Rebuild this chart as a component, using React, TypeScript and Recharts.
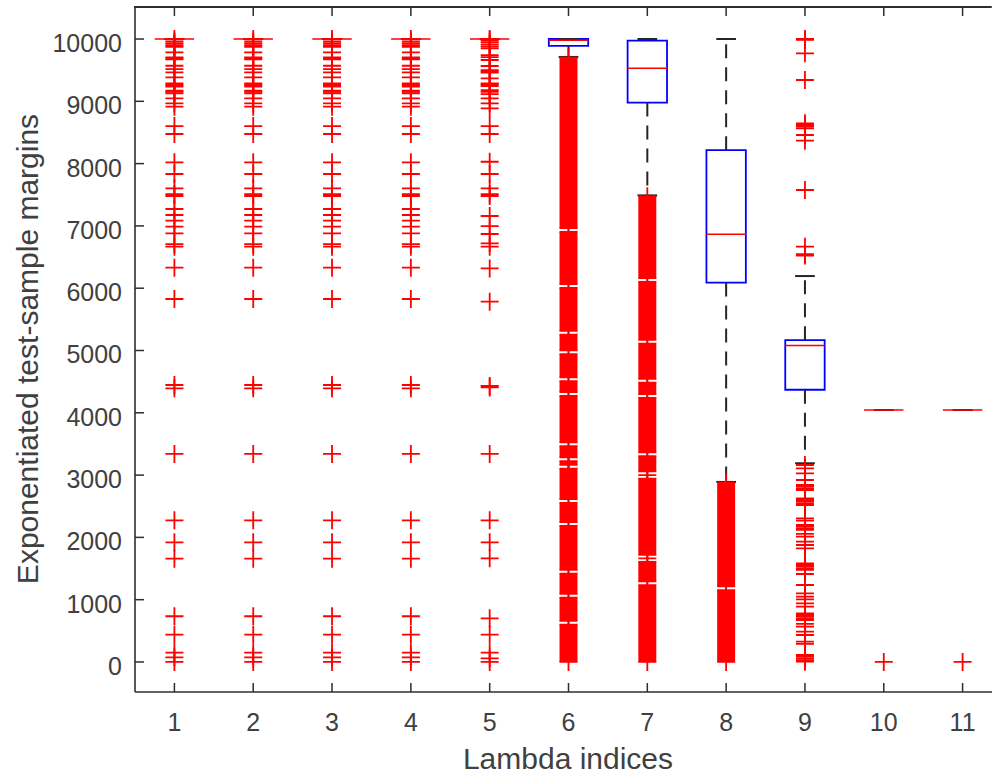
import React from 'react';
import { ComposedChart, XAxis, YAxis, Scatter, ReferenceArea, ReferenceLine, CartesianGrid } from 'recharts';

// lambda indices on the x axis
const groups = [1, 2, 3, 4, 5, 6, 7, 8, 9, 10, 11];
const yTicks = [0, 1000, 2000, 3000, 4000, 5000, 6000, 7000, 8000, 9000, 10000];
const xDomain = [0.5, 11.5];
const yDomain = [-482, 10514];

// box statistics per lambda index
const q1Values = [10000, 10000, 10000, 10000, 10000, 9890, 8980, 6090, 4370, 4045, 4045];
const medianValues = [10000, 10000, 10000, 10000, 10000, 9980, 9530, 6865, 5080, 4045, 4045];
const q3Values = [10000, 10000, 10000, 10000, 10000, 10000, 9975, 8215, 5165, 4045, 4045];
const whiskerLow = [10000, 10000, 10000, 10000, 10000, 9712, 7490, 2890, 3190, 4045, 4045];
const whiskerHigh = [10000, 10000, 10000, 10000, 10000, 10000, 10000, 10000, 6195, 4045, 4045];

// single outliers
const outliersFirst = [10000, 9960, 9930, 9900, 9876, 9786, 9706, 9690, 9674, 9571, 9518, 9465, 9385, 9289, 9262,
  9235, 9170, 9150, 9128, 9048, 8968, 8914, 8603, 8475, 8021, 7833, 7603, 7510, 7480, 7271, 7175, 7084, 6987, 6880,
  6709, 6667, 6329, 5827, 4446, 4393, 3339, 2274, 1921, 1658, 734, 438, 150, 75, 0];
const outliersFifth = [10000, 9984, 9950, 9915, 9880, 9850, 9743, 9710, 9663, 9567, 9502, 9480, 9459, 9369, 9289,
  9267, 9246, 9181, 9150, 9117, 9048, 8968, 8888, 8603, 8475, 8030, 7833, 7603, 7510, 7480, 7159, 6998, 6870, 6720,
  6667, 6318, 5783, 4430, 4408, 3339, 2274, 1921, 1664, 701, 438, 150, 59, 0];
const outliersSeventh = [1663, 3001];
const outliersNinth = [10000, 9985, 9770, 9342, 8647, 8620, 8593, 8566, 8459, 8368, 7576, 6666, 6545, 6525,
  3162, 3109, 3029, 2921, 2841, 2814, 2788, 2761, 2627, 2600, 2573, 2547, 2520, 2306, 2268, 2199, 2172, 2146, 2119,
  2055, 2011, 1931, 1878, 1825, 1584, 1557, 1530, 1504, 1477, 1412, 1236, 1102, 1048, 1006, 942, 888, 781, 754, 727,
  700, 674, 610, 567, 486, 433, 326, 289, 112, 85, 58, 30, 5];
const outliersLast = [0];

// runs of outliers so dense that the markers merge into a solid column
const denseSixth = [[0, 601], [661, 1034], [1094, 1419], [1479, 2185], [2245, 2554], [2614, 3105], [3165, 3224],
  [3284, 3464], [3524, 4272], [4332, 4508], [4568, 4941], [5001, 5256], [5316, 6005], [6065, 6904], [6964, 9700]];
const denseSeventh = [[0, 1233], [1293, 1607], [1720, 2944], [3059, 3304], [3364, 4240], [4300, 4485], [4545, 5111],
  [5171, 6101], [6161, 7475]];
const denseEighth = [[0, 1153], [1213, 2880]];

const outlierValues = [outliersFirst, outliersFirst, outliersFirst, outliersFirst, outliersFifth, [],
  outliersSeventh, [], outliersNinth, outliersLast, outliersLast];
const denseRuns = [[], [], [], [], [], denseSixth, denseSeventh, denseEighth, [], [], []];

const points = groups.flatMap((g, i) => [
  ...outlierValues[i].map((v) => ({ x: g, y: v })),
  ...denseRuns[i].flatMap(([lo, hi]) => [{ x: g, y: lo }, { x: g, y: hi }]),
]);

const font = '"Liberation Sans", Arial, Helvetica, sans-serif';
const axisColor = '#2e2e2e';
const textColor = '#404040';
const red = '#ff0000';
const blue = '#0000ff';
const whisker = '#262626';
const plotTop = 7;
const plotLeft = 135;

const Plus = (props: any) => {
  const { cx, cy } = props;
  return (
    <path d={`M${cx - 9},${cy}H${cx + 9}M${cx},${cy - 9}V${cy + 9}`} stroke={red} strokeWidth={1.8} fill="none" />
  );
};

// bottom tick: inward mark, label, and the matching inward mark on the top edge of the box
const BottomTick = ({ x, y, payload }: any) => (
  <g>
    <line x1={x} x2={x} y1={y} y2={y - 9} stroke={axisColor} strokeWidth={1.5} />
    <line x1={x} x2={x} y1={plotTop} y2={plotTop + 9} stroke={axisColor} strokeWidth={1.5} />
    <text x={x} y={y + 39} textAnchor="middle" fontSize={25} fontFamily={font} fill={textColor}>
      {payload.value}
    </text>
  </g>
);

const LeftTick = ({ x, y, payload }: any) => (
  <g>
    <line x1={x} x2={x + 9} y1={y} y2={y} stroke={axisColor} strokeWidth={1.5} />
    <text x={x - 13} y={y + 13} textAnchor="end" fontSize={25} fontFamily={font} fill={textColor}>
      {payload.value}
    </text>
  </g>
);

const App = () => {
  return (
    <div style={{ position: 'fixed', left: 0, top: 0, width: 992, height: 776, overflow: 'hidden', background: '#fff' }}>
      <ComposedChart width={1010} height={776} margin={{ top: plotTop, right: 8, bottom: 0, left: 0 }}>
        {/* top edge of the axes box */}
        <CartesianGrid vertical={false} horizontalPoints={[plotTop]} stroke={axisColor} strokeWidth={1.6} />
        <XAxis
          type="number"
          dataKey="x"
          domain={xDomain}
          ticks={groups}
          allowDataOverflow
          height={84}
          tickSize={0}
          tickMargin={0}
          tickLine={false}
          tick={BottomTick}
          axisLine={{ stroke: axisColor, strokeWidth: 1.6 }}
          label={() => (
            <text x={568} y={769} textAnchor="middle" fontSize={30} fontFamily={font} fill={textColor}>
              Lambda indices
            </text>
          )}
        />
        <YAxis
          type="number"
          dataKey="y"
          domain={yDomain}
          ticks={yTicks}
          allowDataOverflow
          width={plotLeft}
          tickSize={0}
          tickMargin={0}
          tickLine={false}
          tick={LeftTick}
          axisLine={{ stroke: axisColor, strokeWidth: 1.6 }}
          label={() => (
            <text
              x={27}
              y={349}
              transform="rotate(-90, 27, 349)"
              textAnchor="middle"
              dominantBaseline="central"
              fontSize={30}
              fontFamily={font}
              fill={textColor}
            >
              Exponentiated test-sample margins
            </text>
          )}
        />

        {groups.map((g, i) => (
          <ReferenceLine
            key={`wh-${g}`}
            segment={[{ x: g, y: q3Values[i] }, { x: g, y: whiskerHigh[i] }]}
            stroke={whisker}
            strokeWidth={2}
            strokeDasharray="14 9"
          />
        ))}
        {groups.map((g, i) => (
          <ReferenceLine
            key={`wl-${g}`}
            segment={[{ x: g, y: q1Values[i] }, { x: g, y: whiskerLow[i] }]}
            stroke={whisker}
            strokeWidth={2}
            strokeDasharray="14 9"
          />
        ))}
        {groups.map((g, i) => (
          <ReferenceLine
            key={`ch-${g}`}
            segment={[{ x: g - 0.125, y: whiskerHigh[i] }, { x: g + 0.125, y: whiskerHigh[i] }]}
            stroke={whisker}
            strokeWidth={2}
          />
        ))}
        {groups.map((g, i) => (
          <ReferenceLine
            key={`cl-${g}`}
            segment={[{ x: g - 0.125, y: whiskerLow[i] }, { x: g + 0.125, y: whiskerLow[i] }]}
            stroke={whisker}
            strokeWidth={2}
          />
        ))}
        {groups.map((g, i) =>
          q3Values[i] > q1Values[i] ? (
            <ReferenceArea
              key={`box-${g}`}
              x1={g - 0.25}
              x2={g + 0.25}
              y1={q1Values[i]}
              y2={q3Values[i]}
              fill="none"
              stroke={blue}
              strokeWidth={1.8}
            />
          ) : null
        )}
        {groups.map((g, i) => (
          <ReferenceLine
            key={`med-${g}`}
            segment={[{ x: g - 0.25, y: medianValues[i] }, { x: g + 0.25, y: medianValues[i] }]}
            stroke={red}
            strokeWidth={1.6}
          />
        ))}
        {groups.flatMap((g, i) =>
          denseRuns[i].map(([lo, hi], j) => (
            <ReferenceArea
              key={`run-${g}-${j}`}
              x1={g - 0.114}
              x2={g + 0.114}
              y1={lo}
              y2={hi}
              fill={red}
              fillOpacity={1}
              stroke="none"
            />
          ))
        )}
        <Scatter data={points} shape={Plus} isAnimationActive={false} />
      </ComposedChart>
      {/* frame line along the top of the plot, in case the svg edge line is lost */}
      <div
        style={{
          position: 'absolute',
          left: plotLeft - 0.8,
          top: plotTop - 0.8,
          width: 992 - plotLeft,
          height: 1.6,
          background: axisColor,
          pointerEvents: 'none',
        }}
      />
    </div>
  );
};

export default App;
